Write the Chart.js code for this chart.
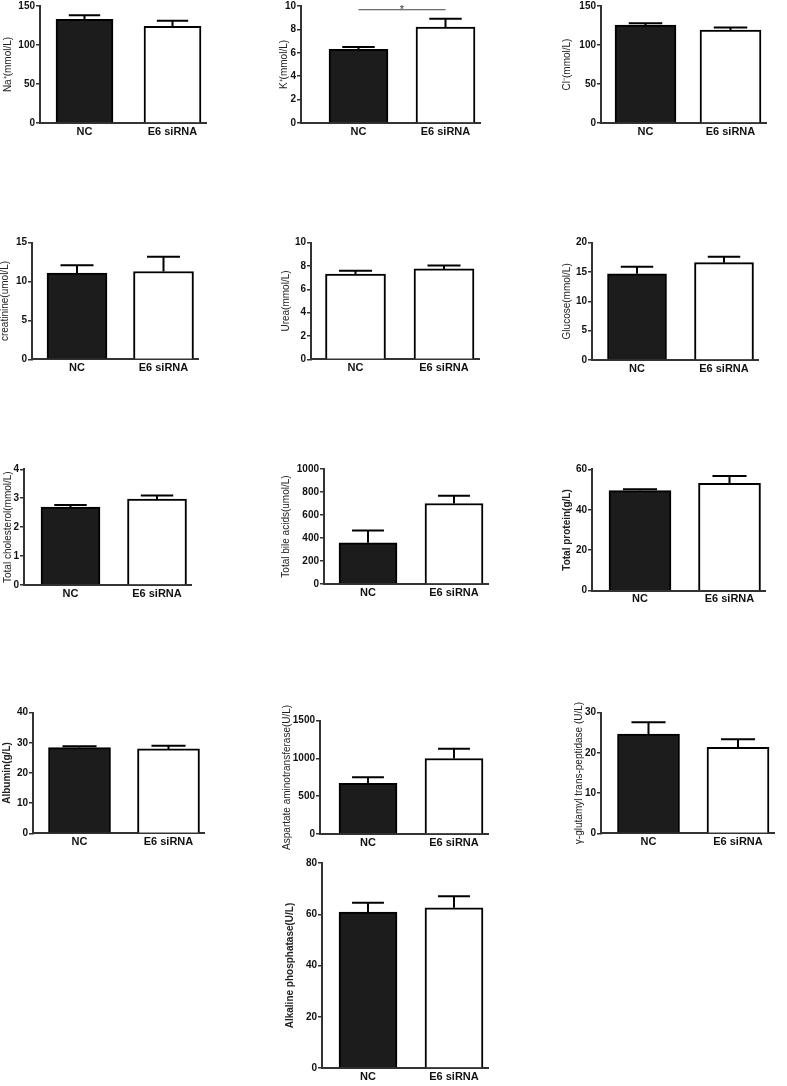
<!DOCTYPE html>
<html>
<head>
<meta charset="utf-8">
<title>Serum biochemistry</title>
<script src="https://cdn.jsdelivr.net/npm/chart.js@4.4.0/dist/chart.umd.min.js"></script>
<style>
  body { margin: 0; background: #fff; }
  #page { position: relative; width: 787px; height: 1086px; overflow: hidden; }
  #page canvas { position: absolute; }
</style>
</head>
<body>
<div id="page"></div>
<script>
// Groups on the x axis
const groups = ['NC', 'E6 siRNA'];

// Mean values and top of error bar (mean + SEM)
const naValues = [133, 124];      const naErrors = [138, 131];
const kValues = [6.3, 8.2];       const kErrors = [6.5, 8.9];
const clValues = [125.5, 119];    const clErrors = [128, 122.5];
const creaValues = [11.1, 11.3];  const creaErrors = [12.1, 13.2];
const ureaValues = [7.3, 7.75];   const ureaErrors = [7.6, 8.05];
const gluValues = [14.7, 16.6];   const gluErrors = [15.9, 17.6];
const cholValues = [2.69, 2.97];  const cholErrors = [2.77, 3.09];
const bileValues = [358, 700];    const bileErrors = [465, 768];
const protValues = [49.5, 53.1];  const protErrors = [50.2, 56.7];
const albValues = [28.4, 28.0];   const albErrors = [28.9, 29.0];
const astValues = [670, 1000];    const astErrors = [750, 1130];
const ggtValues = [24.7, 21.4];   const ggtErrors = [27.6, 23.4];
const alpValues = [60.8, 62.5];   const alpErrors = [64.5, 67];

// Significance bracket on K+ (y value of the line)
const kSigLevel = 9.68;

const DARK = '#1c1c1c';
const WHITE = '#ffffff';
const AXIS = '#333333';
const TITLE_SIZE = 10;
const PAD_TOP = 16;   // room above the plot for long axis titles
const X_AXIS_H = 30;  // room below the plot

Chart.defaults.font.family = "'Liberation Sans', Arial, sans-serif";
Chart.defaults.color = '#222';

// Panel list: data refs + where each plot sits on the page
const panels = [
    { title: 'Na\u207A(mmol/L)', values: naValues, errors: naErrors, max: 150, step: 50,
      box: { axisX: 40, titleX: 8, topY: 6, zeroY: 123, ncX: 84.5, e6X: 172.5, barW: 57 } },
    { title: 'K\u207A(mmol/L)', values: kValues, errors: kErrors, max: 10, step: 2, sig: kSigLevel,
      box: { axisX: 301, titleX: 284, topY: 6, zeroY: 123, ncX: 358.5, e6X: 445.5, barW: 59 } },
    { title: 'Cl\u207B(mmol/L)', values: clValues, errors: clErrors, max: 150, step: 50,
      box: { axisX: 601, titleX: 567, topY: 6, zeroY: 123, ncX: 645.5, e6X: 730.5, barW: 61 } },
    { title: 'creatinine(umol/L)', values: creaValues, errors: creaErrors, max: 15, step: 5,
      box: { axisX: 32, titleX: 5, topY: 242.7, zeroY: 359.3, ncX: 77, e6X: 163.5, barW: 60 } },
    { title: 'Urea(mmol/L)', values: ureaValues, errors: ureaErrors, max: 10, step: 2, fills: [WHITE, WHITE],
      box: { axisX: 311, titleX: 286, topY: 242.7, zeroY: 359.3, ncX: 355.5, e6X: 444, barW: 60 } },
    { title: 'Glucose(mmol/L)', values: gluValues, errors: gluErrors, max: 20, step: 5,
      box: { axisX: 592, titleX: 567, topY: 242.7, zeroY: 360, ncX: 637, e6X: 724, barW: 59 } },
    { title: 'Total cholesterol(mmol/L)', values: cholValues, errors: cholErrors, max: 4, step: 1,
      box: { axisX: 24, titleX: 8, topY: 469.3, zeroY: 585, ncX: 70.5, e6X: 157, barW: 59 } },
    { title: 'Total bile acids(umol/L)', values: bileValues, errors: bileErrors, max: 1000, step: 200,
      box: { axisX: 324, titleX: 286, topY: 469, zeroY: 584, ncX: 368, e6X: 454, barW: 58 } },
    { title: 'Total protein(g/L)', bold: true, values: protValues, errors: protErrors, max: 60, step: 20,
      box: { axisX: 592, titleX: 567, topY: 469.3, zeroY: 590.7, ncX: 640, e6X: 729.5, barW: 62 } },
    { title: 'Albumin(g/L)', bold: true, values: albValues, errors: albErrors, max: 40, step: 10,
      box: { axisX: 33, titleX: 7, topY: 712.7, zeroY: 833.3, ncX: 79.5, e6X: 168.5, barW: 62 } },
    { title: 'Aspartate aminotransferase(U/L)', values: astValues, errors: astErrors, max: 1500, step: 500,
      box: { axisX: 320, titleX: 287, topY: 720.7, zeroY: 834, ncX: 368, e6X: 454, barW: 58 } },
    { title: '\u03B3-glutamyl trans-peptidase (U/L)', values: ggtValues, errors: ggtErrors, max: 30, step: 10,
      box: { axisX: 601, titleX: 579, topY: 712.7, zeroY: 833.3, ncX: 648.5, e6X: 738, barW: 62 } },
    { title: 'Alkaline phosphatase(U/L)', bold: true, values: alpValues, errors: alpErrors, max: 80, step: 20,
      box: { axisX: 322, titleX: 290, topY: 863, zeroY: 1068, ncX: 368, e6X: 454, barW: 58 } }
];

// Draws upward error bars (and the significance line) through the chart's scales
const errorBarPlugin = {
    id: 'errorBars',
    afterDatasetsDraw(chart, args, opts) {
        const ctx = chart.ctx;
        const xs = chart.scales.x, ys = chart.scales.y;
        const p = opts.panel;
        const cap = p.box.barW * 0.55;
        ctx.save();
        ctx.strokeStyle = '#000';
        ctx.lineWidth = 2;
        p.values.forEach(function (v, i) {
            const x = xs.getPixelForValue(i);
            const y0 = ys.getPixelForValue(v);
            const y1 = ys.getPixelForValue(p.errors[i]);
            ctx.beginPath();
            ctx.moveTo(x, y0);
            ctx.lineTo(x, y1);
            ctx.moveTo(x - cap / 2, y1);
            ctx.lineTo(x + cap / 2, y1);
            ctx.stroke();
        });
        if (p.sig !== undefined) {
            const yS = ys.getPixelForValue(p.sig);
            const xa = xs.getPixelForValue(0), xb = xs.getPixelForValue(1);
            ctx.strokeStyle = '#444';
            ctx.lineWidth = 1;
            ctx.beginPath();
            ctx.moveTo(xa, yS);
            ctx.lineTo(xb, yS);
            ctx.stroke();
            ctx.fillStyle = '#333';
            ctx.font = "11px 'Liberation Sans', Arial, sans-serif";
            ctx.textAlign = 'center';
            ctx.textBaseline = 'alphabetic';
            ctx.fillText('*', (xa + xb) / 2, yS + 3);
        }
        ctx.restore();
    }
};

function makePanel(p) {
    const b = p.box;
    const spacing = b.e6X - b.ncX;
    const axisEnd = b.e6X + b.barW / 2 + 5;
    const left = Math.round(b.titleX - TITLE_SIZE * 1.2 / 2);
    const top = Math.round(b.topY - PAD_TOP);
    const width = Math.ceil(axisEnd - left + 4);
    const height = Math.ceil(b.zeroY - top + X_AXIS_H);

    const canvas = document.createElement('canvas');
    canvas.width = width;
    canvas.height = height;
    canvas.style.left = left + 'px';
    canvas.style.top = top + 'px';
    canvas.style.width = width + 'px';
    canvas.style.height = height + 'px';
    document.getElementById('page').appendChild(canvas);

    try {
        new Chart(canvas.getContext('2d'), {
            type: 'bar',
            data: {
                datasets: [{
                    data: p.values.map(function (v, i) { return { x: i, y: v }; }),
                    backgroundColor: p.fills || [DARK, WHITE],
                    borderColor: '#000',
                    borderWidth: 2,
                    barThickness: b.barW
                }]
            },
            options: {
                responsive: false,
                animation: false,
                devicePixelRatio: 1,
                layout: { padding: { top: b.topY - top, right: width - (axisEnd - left), left: 0, bottom: 0 } },
                plugins: {
                    legend: { display: false },
                    tooltip: { enabled: false },
                    errorBars: { panel: p }
                },
                scales: {
                    x: {
                        type: 'linear',
                        offset: false,
                        bounds: 'data',
                        min: (b.axisX - b.ncX) / spacing,
                        max: 1 + (axisEnd - b.e6X) / spacing,
                        grid: { display: false, drawTicks: false, offset: false },
                        border: { display: true, color: AXIS, width: 2 },
                        afterBuildTicks: function (scale) {
                            scale.ticks = [{ value: 0 }, { value: 1 }];
                        },
                        afterFit: function (scale) { scale.height = height - (b.zeroY - top); },
                        ticks: {
                            autoSkip: false,
                            maxRotation: 0,
                            padding: 2,
                            color: '#111',
                            font: { size: 11, weight: 'bold' },
                            callback: function (v) { return groups[v]; }
                        }
                    },
                    y: {
                        min: 0,
                        max: p.max,
                        grid: { display: true, drawOnChartArea: false, drawTicks: true, tickLength: 4, color: AXIS, lineWidth: 1.5 },
                        border: { display: true, color: AXIS, width: 2 },
                        afterFit: function (scale) { scale.width = b.axisX - left; },
                        ticks: {
                            stepSize: p.step,
                            padding: 1,
                            color: '#111',
                            font: { size: 10, weight: 'bold' },
                            callback: function (v) { return String(v); }
                        },
                        title: {
                            display: true,
                            text: p.title,
                            padding: 0,
                            color: '#222',
                            font: { size: TITLE_SIZE, weight: p.bold ? 'bold' : 'normal' }
                        }
                    }
                }
            },
            plugins: [errorBarPlugin]
        });
    } catch (error) {
        console.error('Error drawing panel ' + p.title + ':', error);
    }
}

panels.forEach(makePanel);
</script>
</body>
</html>
